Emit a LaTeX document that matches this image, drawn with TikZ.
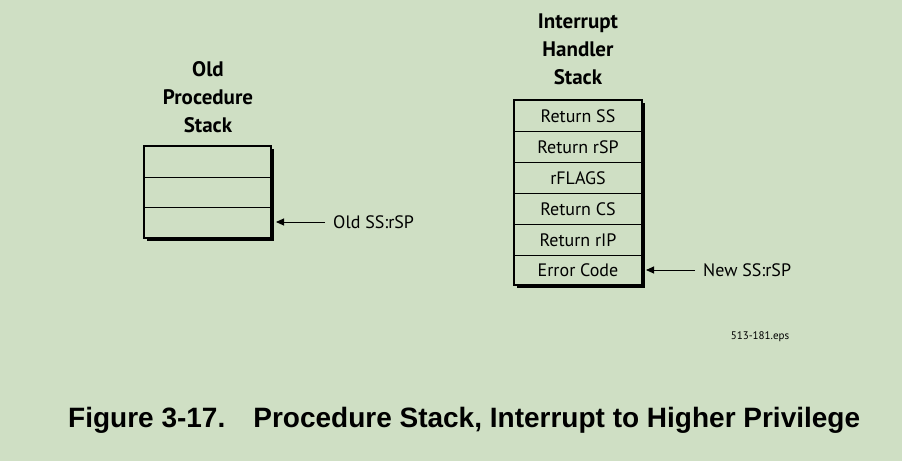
\documentclass[tikz,border=0pt]{standalone}
\usepackage{fontspec}
\setmainfont{PT Sans}
\newfontfamily\capfont{Liberation Sans}
\usetikzlibrary{arrows.meta}
\definecolor{bgc}{RGB}{207,223,196}
\begin{document}
\begin{tikzpicture}[x=1pt,y=-1pt,
  lbl/.style={inner sep=0pt,font=\fontsize{18}{20}\selectfont},
  ttl/.style={inner sep=0pt,align=center,font=\fontsize{21}{28}\selectfont\bfseries},
  frame/.style={draw=black,line width=1.6pt},
  row/.style={draw=black,line width=0.8pt},
  ptr/.style={draw=black,line width=0.9pt,-{Triangle[length=8pt,width=7pt]}}]
\fill[bgc] (0,0) rectangle (902,461);
\useasboundingbox (0,0) rectangle (902,461);
% old stack
\fill[black] (147,149) rectangle (274,241);
\fill[bgc] (144,146) rectangle (271,238);
\draw[row] (144,177) -- (271,177);
\draw[row] (144,207) -- (271,207);
\draw[frame] (144,146) rectangle (271,238);
\coordinate (oldtip) at (276,222);
\node[lbl,anchor=west] (oldlbl) at (333,222) {Old SS:rSP};
\draw[ptr] ([xshift=-8pt]oldlbl.west) -- (oldtip);
\node[ttl] (oldttl) at (208,97) {Old\\Procedure\\Stack};
% interrupt stack
\fill[black] (517,103) rectangle (645,288);
\fill[bgc] (514,100) rectangle (642,285);
\foreach \y in {131,162,193,224,255} \draw[row] (514,\y) -- (642,\y);
\draw[frame] (514,100) rectangle (642,285);
\node[lbl] (s1) at (578,116) {Return SS};
\node[lbl] (s2) at (578,147) {Return rSP};
\node[lbl] (s3) at (578,178) {rFLAGS};
\node[lbl] (s4) at (578,209) {Return CS};
\node[lbl] (s5) at (578,240) {Return rIP};
\node[lbl] (s6) at (578,270) {Error Code};
\coordinate (newtip) at (646,270);
\node[lbl,anchor=west] (newlbl) at (703,270) {New SS:rSP};
\draw[ptr] ([xshift=-8pt]newlbl.west) -- (newtip);
\node[ttl] (intttl) at (578,49) {Interrupt\\Handler\\Stack};
\node[inner sep=0pt,font=\fontsize{11}{12}\selectfont] (eps) at (760,337) {513-181.eps};
\node[inner sep=0pt,anchor=west,font=\capfont\fontsize{28}{30}\selectfont\bfseries] (cap) at (68,420) {Figure 3-17.\hspace{28pt}Procedure Stack, Interrupt to Higher Privilege};
\end{tikzpicture}
\end{document}
